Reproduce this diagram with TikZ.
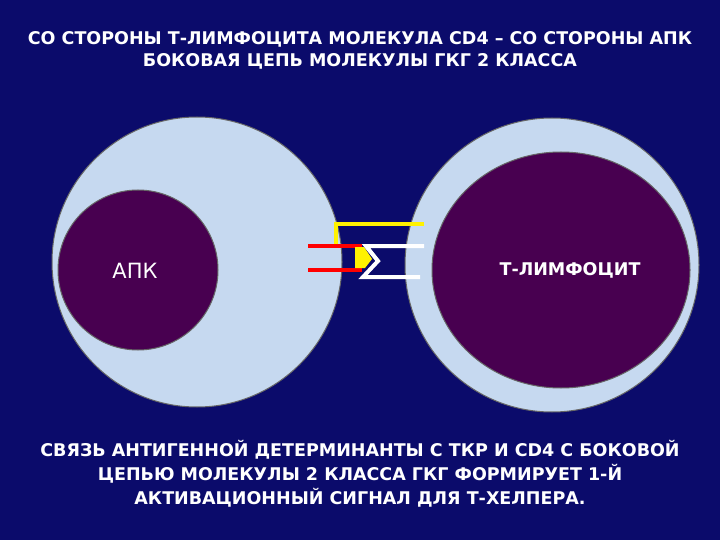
\documentclass[tikz,border=0pt]{standalone}
\usepackage{fontspec}
\setmainfont{DejaVu Sans}
\begin{document}
\begin{tikzpicture}[x=1pt,y=-1pt,
  txt/.style={text=white,font=\bfseries\fontsize{17.5}{22}\selectfont,align=center,inner sep=0},
  light/.style={fill=cellblue,draw=black!60,line width=1pt},
  dark/.style={fill=cellpurple,draw=black!60,line width=1pt},
  bar/.style={line width=4pt}]
\definecolor{bgnavy}{HTML}{0B0B6B}
\definecolor{cellblue}{HTML}{C6D9F0}
\definecolor{cellpurple}{HTML}{480050}
\fill[bgnavy] (0,0) rectangle (720,540);
\useasboundingbox (0,0) rectangle (720,540);
\node[txt] (title) at (360,50) {СО СТОРОНЫ Т-ЛИМФОЦИТА МОЛЕКУЛА CD4 – СО СТОРОНЫ АПК\\БОКОВАЯ ЦЕПЬ МОЛЕКУЛЫ ГКГ 2 КЛАССА};
\path[light] (197,262) circle[radius=145];
\path[dark] (138,270) circle[radius=80];
\path[light] (552,265) circle[radius=147];
\path[dark] (561,270) ellipse[x radius=129,y radius=118];
\node[text=white,font=\fontsize{21}{24}\selectfont] (apk) at (135,271) {АПК};
\node[txt] (tl) at (570,270) {Т-ЛИМФОЦИТ};
\coordinate (y1) at (424,224); \coordinate (y2) at (336,224); \coordinate (y3) at (336,246);
\draw[bar,yellow] (y1) -- (y2) -- (y3);
\coordinate (r1a) at (308,246); \coordinate (r1b) at (362,246);
\coordinate (r2a) at (308,270); \coordinate (r2b) at (362,270);
\draw[bar,red] (r1a) -- (r1b);
\draw[bar,red] (r2a) -- (r2b);
\fill[yellow] (355,247) -- (364,247) -- (372,259) -- (365,268) -- (355,268) -- cycle;
\coordinate (w1) at (424,246); \coordinate (w2) at (366,246); \coordinate (w3) at (378,261);
\coordinate (w4) at (363,277); \coordinate (w5) at (420,277);
\draw[bar,white,line join=miter] (w1) -- (w2) -- (w3) -- (w4) -- (w5);
\node[txt,font=\bfseries\fontsize{17.5}{24}\selectfont] (bottom) at (360,474) {СВЯЗЬ АНТИГЕННОЙ ДЕТЕРМИНАНТЫ С ТКР И CD4 С БОКОВОЙ\\ЦЕПЬЮ МОЛЕКУЛЫ 2 КЛАССА ГКГ ФОРМИРУЕТ 1-Й\\АКТИВАЦИОННЫЙ СИГНАЛ ДЛЯ Т-ХЕЛПЕРА.};
\end{tikzpicture}
\end{document}
